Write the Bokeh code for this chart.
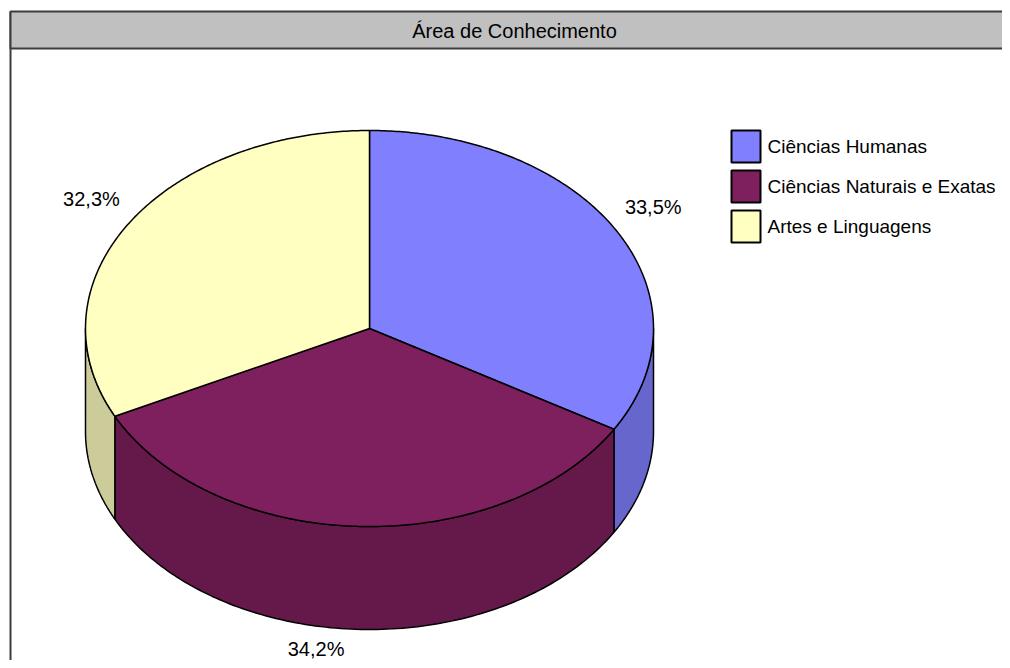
import numpy as np
from bokeh.plotting import figure
from bokeh.models import Range1d, ColumnDataSource
from bokeh.core.properties import value
from bokeh.embed import file_html
from bokeh.resources import INLINE

# ---- data ----
title = "Área de Conhecimento"
categories = ["Ciências Humanas", "Ciências Naturais e Exatas", "Artes e Linguagens"]
values = [33.5, 34.2, 32.3]
top_colors = ["#8080ff", "#7e1f5e", "#ffffc2"]
side_colors = ["#6666cc", "#65194b", "#cccc9b"]

FONT = value("Liberation Sans")

W, H = 1002, 660
p = figure(width=W, height=H, output_backend="svg", toolbar_location=None,
           x_range=Range1d(0, W), y_range=Range1d(H, 0),
           min_border=0, x_axis_location=None, y_axis_location=None,
           outline_line_color=None, background_fill_color="white",
           border_fill_color="white")
p.grid.visible = False

# frame and title bar
p.segment(x0=[10], y0=[11], x1=[10], y1=[700], line_color="#3c3c3c", line_width=2)
p.quad(left=[10], right=[1018], top=[11], bottom=[48], fill_color="#c0c0c0",
       line_color="#3c3c3c", line_width=2)
p.text(x=[514], y=[30], text=[title], text_align="center", text_baseline="middle",
       text_font=FONT, text_font_size="20px", text_color="black")

# pie geometry
cx, cy, rx, ry, depth = 369.0, 328.0, 284.0, 198.0, 103.0
total = sum(values)
start = 90.0
starts, ends = [], []
for v in values:
    starts.append(start)
    start = start - v / total * 360.0
    ends.append(start)

def ex(t):
    return cx + rx * np.cos(np.radians(t))

def ey(t):
    return cy - ry * np.sin(np.radians(t))

# sides
sx, sy, sc = [], [], []
for s, e, c in zip(starts, ends, side_colors):
    a = max(e, -180.0)
    b = min(s, 0.0)
    if b > a:
        t = np.linspace(b, a, 120)
        xs = list(ex(t)) + list(ex(t[::-1]))
        ys = list(ey(t)) + list(ey(t[::-1]) + depth)
        sx.append(xs); sy.append(ys); sc.append(c)
p.patches(xs=sx, ys=sy, fill_color=sc, line_color="black", line_width=1.5)

# tops
tx, ty = [], []
for s, e in zip(starts, ends):
    t = np.linspace(s, e, 200)
    tx.append([cx] + list(ex(t)))
    ty.append([cy] + list(ey(t)))
p.patches(xs=tx, ys=ty, fill_color=top_colors, line_color="black", line_width=1.5)

# percentage labels
lx, ly, lt, la = [], [], [], []
for s, e, v in zip(starts, ends, values):
    m = np.radians((s + e) / 2)
    c, sn = np.cos(m), np.sin(m)
    if sn >= 0:
        x = cx + (rx + 10) * c
        y = cy - (ry + 48) * sn
    else:
        x = cx + (rx + 10) * c - 14
        y = cy - (ry + 20) * sn + depth
    lx.append(x); ly.append(y)
    lt.append(f"{v:.1f}".replace(".", ",") + "%")
    la.append("left" if c >= 0 else "right")
for x, y, t, a in zip(lx, ly, lt, la):
    p.text(x=[x], y=[y], text=[t], text_align=a, text_baseline="middle",
           text_font=FONT, text_font_size="20px", text_color="black")

# legend
n = len(categories)
row = 40
ly0 = 130
src = ColumnDataSource(dict(
    left=[731] * n, right=[760] * n,
    top=[ly0 + i * row for i in range(n)],
    bottom=[ly0 + 32 + i * row for i in range(n)],
    color=top_colors))
p.quad(left="left", right="right", top="top", bottom="bottom", source=src,
       fill_color="color", line_color="black", line_width=2)
p.text(x=[767] * n, y=[ly0 + 16 + i * row for i in range(n)], text=categories,
       text_align="left", text_baseline="middle", text_font=FONT,
       text_font_size="19px", text_color="black")

open("out.html", "w").write(file_html(p, INLINE))
